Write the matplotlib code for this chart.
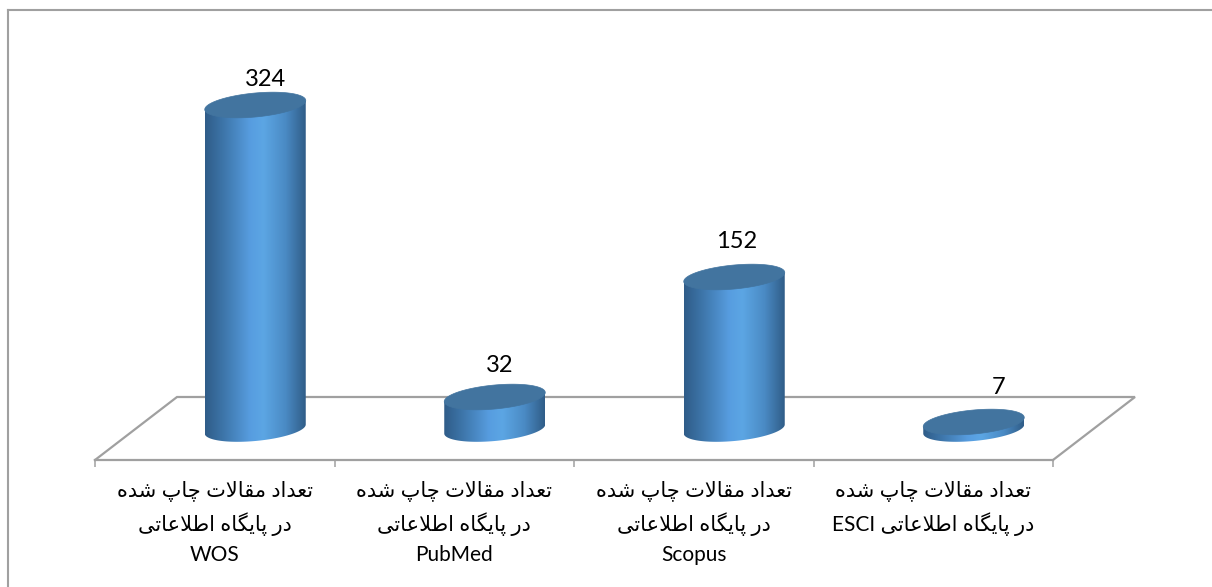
"""Cylinder chart of paper counts per indexing database."""

import matplotlib

matplotlib.use("Agg")
import matplotlib.pyplot as plt
import numpy as np
from matplotlib.colors import LinearSegmentedColormap
from matplotlib.lines import Line2D
from matplotlib.patches import Polygon

first_line = "تعداد مقالات چاپ شده"
second_line = "در پایگاه اطلاعاتی"
databases = ["WOS", "PubMed", "Scopus", "ESCI"]
counts = [324, 32, 152, 7]
# small hand placement of the value labels, in pixels, as in the source chart
label_shift_x = [10, 5, 2, 25]
label_shift_y = [25, 31, 36, 35]

W, H = 1212, 587
GRAY = "#a0a0a0"
FONT = ["Lato", "DejaVu Sans"]

FORMS = {
    "ت": (0xFE95, 0xFE96, 0xFE97, 0xFE98),
    "ع": (0xFEC9, 0xFECA, 0xFECB, 0xFECC),
    "د": (0xFEA9, 0xFEAA),
    "ا": (0xFE8D, 0xFE8E),
    "م": (0xFEE1, 0xFEE2, 0xFEE3, 0xFEE4),
    "ق": (0xFED5, 0xFED6, 0xFED7, 0xFED8),
    "ل": (0xFEDD, 0xFEDE, 0xFEDF, 0xFEE0),
    "چ": (0xFB7A, 0xFB7B, 0xFB7C, 0xFB7D),
    "پ": (0xFB56, 0xFB57, 0xFB58, 0xFB59),
    "ش": (0xFEB5, 0xFEB6, 0xFEB7, 0xFEB8),
    "ه": (0xFEE9, 0xFEEA, 0xFEEB, 0xFEEC),
    "ر": (0xFEAD, 0xFEAE),
    "ی": (0xFBFC, 0xFBFD, 0xFBFE, 0xFBFF),
    "گ": (0xFB92, 0xFB93, 0xFB94, 0xFB95),
    "ط": (0xFEC1, 0xFEC2, 0xFEC3, 0xFEC4),
}
LAM_ALEF = (0xFEFB, 0xFEFC)


def _shape_word(word):
    """matplotlib has no Arabic shaping, so pick the joined forms by hand."""
    letters = list(word.replace("لا", "\0"))
    out = []
    for i, ch in enumerate(letters):
        prev = letters[i - 1] if i else None
        joins_prev = prev is not None and len(FORMS.get(prev, ())) == 4
        joins_next = i + 1 < len(letters) and len(FORMS.get(ch, ())) == 4
        if ch == "\0":
            out.append(chr(LAM_ALEF[1 if joins_prev else 0]))
        elif joins_prev and joins_next:
            out.append(chr(FORMS[ch][3]))
        elif joins_prev:
            out.append(chr(FORMS[ch][1]))
        elif joins_next:
            out.append(chr(FORMS[ch][2]))
        else:
            out.append(chr(FORMS[ch][0]))
    return "".join(reversed(out))


def rtl(line):
    words = [w if w.isascii() else _shape_word(w) for w in line.split(" ")]
    return " ".join(reversed(words))


def _label(name):
    if name == "ESCI":
        return rtl(first_line) + "\n" + rtl(f"{second_line} {name}")
    return rtl(first_line) + "\n" + rtl(second_line) + "\n" + name


fig = plt.figure(figsize=(W / 100, H / 100), dpi=100, facecolor="white")
ax = fig.add_axes([95 / W, (H - 460) / H, 958 / W, 400 / H])
ax.patch.set_alpha(0)

# one x unit is one category, one y unit is one pixel and one paper
px = 958 / 4
depth_x, depth_y = 82 / px, 63
floor_y = -31
half_w = 50.5 / px
shift = 40.5 / px
tilt, minor = 4.5, 12

side_cmap = LinearSegmentedColormap.from_list(
    "side",
    [
        (0.0, "#2f5c88"),
        (0.2, "#3f78ad"),
        (0.45, "#579de0"),
        (0.58, "#5ca6e4"),
        (0.8, "#4a8ac4"),
        (1.0, "#305d88"),
    ],
)
gradient = np.linspace(0, 1, 256).reshape(1, -1)
t = np.linspace(0, 2 * np.pi, 200)

# floor back and side edges
ax.plot(
    [-0.5, -0.5 + depth_x, 3.5 + depth_x, 3.5],
    [floor_y, floor_y + depth_y, floor_y + depth_y, floor_y],
    color=GRAY, linewidth=1.6, clip_on=False, zorder=1, solid_joinstyle="miter",
)

for i, value in enumerate(counts):
    cx = i + shift
    ex = half_w * np.cos(t)
    ey = tilt * np.cos(t) + minor * np.sin(t)
    low_x = ex[t >= np.pi]
    low_y = ey[t >= np.pi]
    # side wall: down the left edge, round the front of the base, back up
    side = np.column_stack(
        [
            np.r_[cx - half_w, cx + low_x, cx + half_w],
            np.r_[value - tilt, low_y, value + tilt],
        ]
    )
    wall = Polygon(side, closed=True, facecolor="none", edgecolor="none", transform=ax.transData)
    ax.add_patch(wall)
    img = ax.imshow(
        gradient,
        extent=(cx - half_w, cx + half_w, -20, value + 20),
        aspect="auto",
        cmap=side_cmap,
        zorder=2,
        interpolation="bilinear",
    )
    img.set_clip_path(wall)
    ax.fill(cx + ex, value + ey, color="#42749f", zorder=3, linewidth=0.5, clip_on=False)
    ax.annotate(
        str(value),
        (cx, value),
        xytext=(label_shift_x[i] * 0.72, label_shift_y[i] * 0.72),
        textcoords="offset points",
        ha="center",
        va="center",
        fontsize=17,
        family="Lato",
        color="black",
    )

ax.set_xlim(-0.5, 3.5)
ax.set_ylim(floor_y, 369)

for name, spine in ax.spines.items():
    spine.set_visible(name == "bottom")
ax.spines["bottom"].set_color(GRAY)
ax.spines["bottom"].set_linewidth(1.6)
ax.set_yticks([])
ax.set_xticks(np.arange(-0.5, 4, 1), [""] * 5)
ax.set_xticks(range(len(databases)), [_label(d) for d in databases], minor=True)
ax.tick_params(axis="x", which="major", length=5, width=1.1, color=GRAY)
ax.tick_params(axis="x", which="minor", length=0, pad=15)
for tick in ax.get_xticklabels(minor=True):
    tick.set_family(FONT)
    tick.set_fontsize(15)
    tick.set_multialignment("center")
    tick.set_linespacing(1.55)

# chart frame: only the top and left edges fall inside the crop
fig.add_artist(Line2D([8 / W, 8 / W], [0, 1 - 10 / H], color=GRAY, linewidth=1.5))
fig.add_artist(Line2D([8 / W, 1], [1 - 10 / H, 1 - 10 / H], color=GRAY, linewidth=1.5))

fig.savefig("out.png", dpi=100, facecolor="white")
